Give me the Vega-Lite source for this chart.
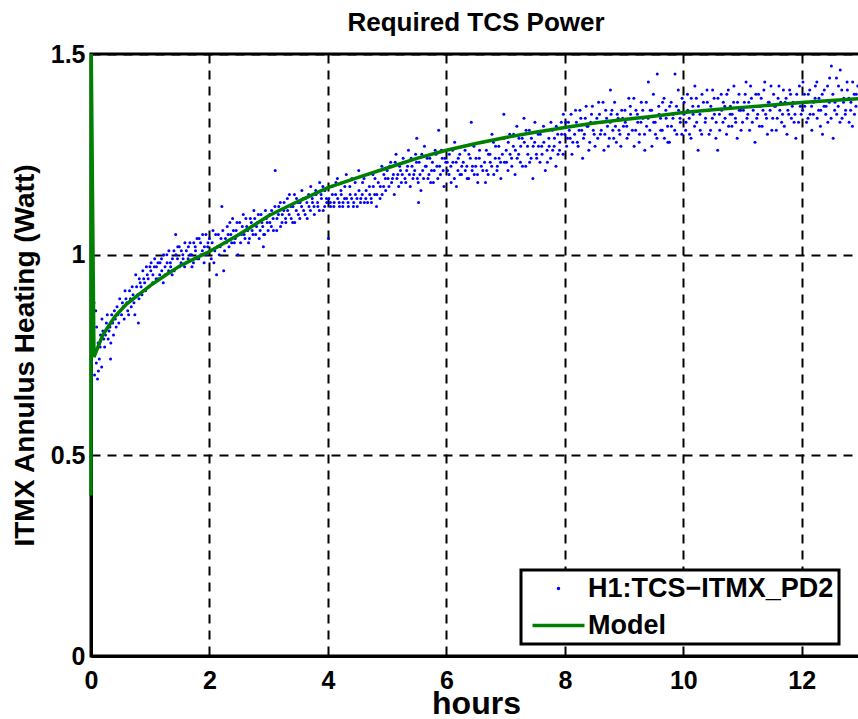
{
  "$schema": "https://vega.github.io/schema/vega-lite/v6.json",
  "width": 770,
  "height": 602,
  "autosize": "none",
  "padding": {"left": 91, "top": 54, "right": 0, "bottom": 63},
  "background": "white",
  "title": {
    "text": "Required TCS Power",
    "font": "Liberation Sans",
    "fontSize": 26,
    "fontWeight": "bold",
    "color": "black",
    "anchor": "middle",
    "offset": 6
  },
  "config": {
    "view": {"stroke": "black", "strokeWidth": 3},
    "legend": {"strokeWidth": 3},
    "axis": {
      "domainColor": "black",
      "domainWidth": 3,
      "ticks": false,
      "labelFont": "Liberation Sans",
      "labelFontSize": 25,
      "labelFontWeight": "bold",
      "labelColor": "black",
      "labelFlush": false,
      "labelOverlap": false,
      "titleFont": "Liberation Sans",
      "titleFontWeight": "bold",
      "titleColor": "black",
      "gridColor": "black",
      "gridWidth": 2,
      "gridDash": [9, 7],
      "gridOpacity": 1
    }
  },
  "datasets": {
    "measured": [
      {"h":0.05,"w":0.88},{"h":0.06,"w":0.70},{"h":0.08,"w":0.86},{"h":0.09,"w":0.73},{"h":0.11,"w":0.69},{"h":0.12,"w":0.78},{"h":0.14,"w":0.74},{"h":0.16,"w":0.80},{"h":0.18,"w":0.72},{"h":0.20,"w":0.81},{"h":0.23,"w":0.77},{"h":0.26,"w":0.83},{"h":0.29,"w":0.79},{"h":0.32,"w":0.82},{"h":0.33,"w":0.74},{"h":0.35,"w":0.85},{"h":0.38,"w":0.80},{"h":0.41,"w":0.84},{"h":0.44,"w":0.87},{"h":0.47,"w":0.83},{"h":0.50,"w":0.86},{"h":0.53,"w":0.88},{"h":0.56,"w":0.84},{"h":0.59,"w":0.89},{"h":0.62,"w":0.86},{"h":0.65,"w":0.91},{"h":0.68,"w":0.87},{"h":0.71,"w":0.90},{"h":0.74,"w":0.85},{"h":0.77,"w":0.92},{"h":0.80,"w":0.83},{"h":0.81,"w":0.89},{"h":0.83,"w":0.93},{"h":0.86,"w":0.90},{"h":0.89,"w":0.94},{"h":0.92,"w":0.91},{"h":0.95,"w":0.95},{"h":0.98,"w":0.92},
      {"h":1.01,"w":0.96},{"h":1.04,"w":0.93},{"h":1.07,"w":0.97},{"h":1.10,"w":0.94},{"h":1.13,"w":0.98},{"h":1.16,"w":0.95},{"h":1.19,"w":0.99},{"h":1.22,"w":0.93},{"h":1.25,"w":0.97},{"h":1.28,"w":1.00},{"h":1.31,"w":0.96},{"h":1.34,"w":0.98},{"h":1.37,"w":0.95},{"h":1.40,"w":1.01},{"h":1.43,"w":1.05},{"h":1.46,"w":0.99},{"h":1.49,"w":1.02},{"h":1.52,"w":0.98},{"h":1.55,"w":1.00},{"h":1.58,"w":0.97},{"h":1.61,"w":1.01},{"h":1.64,"w":0.99},{"h":1.67,"w":1.03},{"h":1.70,"w":1.00},{"h":1.73,"w":0.98},{"h":1.76,"w":1.02},{"h":1.79,"w":1.04},{"h":1.82,"w":0.99},{"h":1.85,"w":1.03},{"h":1.88,"w":1.01},{"h":1.91,"w":0.98},{"h":1.94,"w":1.05},{"h":1.97,"w":1.02},
      {"h":2.00,"w":1.04},{"h":2.03,"w":0.99},{"h":2.06,"w":1.06},{"h":2.09,"w":1.01},{"h":2.12,"w":0.95},{"h":2.15,"w":1.05},{"h":2.18,"w":1.02},{"h":2.21,"w":1.12},{"h":2.24,"w":0.96},{"h":2.27,"w":1.04},{"h":2.30,"w":1.07},{"h":2.33,"w":1.02},{"h":2.36,"w":1.05},{"h":2.39,"w":1.09},{"h":2.42,"w":1.03},{"h":2.45,"w":1.06},{"h":2.48,"w":1.00},{"h":2.51,"w":1.08},{"h":2.54,"w":1.05},{"h":2.57,"w":1.10},{"h":2.60,"w":1.04},{"h":2.63,"w":1.07},{"h":2.66,"w":1.03},{"h":2.69,"w":1.09},{"h":2.72,"w":1.06},{"h":2.75,"w":1.11},{"h":2.78,"w":1.05},{"h":2.81,"w":1.08},{"h":2.84,"w":1.04},{"h":2.87,"w":1.10},{"h":2.90,"w":1.07},{"h":2.91,"w":1.02},{"h":2.93,"w":1.05},{"h":2.96,"w":1.09},{"h":2.99,"w":1.06},
      {"h":3.02,"w":1.08},{"h":3.05,"w":1.11},{"h":3.08,"w":1.06},{"h":3.11,"w":1.21},{"h":3.14,"w":1.09},{"h":3.17,"w":1.12},{"h":3.20,"w":1.07},{"h":3.23,"w":1.10},{"h":3.26,"w":1.13},{"h":3.29,"w":1.08},{"h":3.32,"w":1.11},{"h":3.35,"w":1.15},{"h":3.38,"w":1.09},{"h":3.41,"w":1.12},{"h":3.44,"w":1.08},{"h":3.47,"w":1.14},{"h":3.50,"w":1.10},{"h":3.53,"w":1.13},{"h":3.56,"w":1.16},{"h":3.59,"w":1.11},{"h":3.62,"w":1.14},{"h":3.65,"w":1.09},{"h":3.68,"w":1.12},{"h":3.71,"w":1.17},{"h":3.74,"w":1.13},{"h":3.77,"w":1.10},{"h":3.80,"w":1.15},{"h":3.83,"w":1.12},{"h":3.86,"w":1.18},{"h":3.89,"w":1.14},{"h":3.92,"w":1.11},{"h":3.95,"w":1.16},{"h":3.98,"w":1.13},
      {"h":4.01,"w":1.04},{"h":4.04,"w":1.13},{"h":4.07,"w":1.17},{"h":4.10,"w":1.12},{"h":4.13,"w":1.15},{"h":4.16,"w":1.19},{"h":4.19,"w":1.13},{"h":4.22,"w":1.16},{"h":4.25,"w":1.12},{"h":4.28,"w":1.14},{"h":4.31,"w":1.20},{"h":4.34,"w":1.13},{"h":4.37,"w":1.17},{"h":4.40,"w":1.14},{"h":4.43,"w":1.12},{"h":4.46,"w":1.18},{"h":4.49,"w":1.14},{"h":4.52,"w":1.21},{"h":4.55,"w":1.13},{"h":4.58,"w":1.15},{"h":4.61,"w":1.19},{"h":4.64,"w":1.14},{"h":4.67,"w":1.13},{"h":4.70,"w":1.17},{"h":4.73,"w":1.14},{"h":4.76,"w":1.20},{"h":4.79,"w":1.15},{"h":4.82,"w":1.12},{"h":4.85,"w":1.18},{"h":4.88,"w":1.14},{"h":4.91,"w":1.22},{"h":4.94,"w":1.17},{"h":4.97,"w":1.19},
      {"h":5.00,"w":1.21},{"h":5.03,"w":1.17},{"h":5.06,"w":1.23},{"h":5.09,"w":1.19},{"h":5.12,"w":1.15},{"h":5.15,"w":1.25},{"h":5.18,"w":1.20},{"h":5.21,"w":1.22},{"h":5.24,"w":1.18},{"h":5.27,"w":1.24},{"h":5.30,"w":1.19},{"h":5.33,"w":1.21},{"h":5.36,"w":1.26},{"h":5.39,"w":1.17},{"h":5.42,"w":1.22},{"h":5.45,"w":1.20},{"h":5.48,"w":1.25},{"h":5.50,"w":1.29},{"h":5.51,"w":1.19},{"h":5.53,"w":1.13},{"h":5.54,"w":1.23},{"h":5.57,"w":1.16},{"h":5.60,"w":1.21},{"h":5.63,"w":1.27},{"h":5.66,"w":1.22},{"h":5.69,"w":1.19},{"h":5.72,"w":1.24},{"h":5.75,"w":1.21},{"h":5.78,"w":1.18},{"h":5.81,"w":1.26},{"h":5.84,"w":1.22},{"h":5.87,"w":1.31},{"h":5.90,"w":1.20},{"h":5.93,"w":1.24},{"h":5.96,"w":1.17},{"h":5.99,"w":1.23},
      {"h":6.02,"w":1.21},{"h":6.05,"w":1.25},{"h":6.08,"w":1.18},{"h":6.11,"w":1.23},{"h":6.14,"w":1.28},{"h":6.17,"w":1.17},{"h":6.20,"w":1.24},{"h":6.23,"w":1.20},{"h":6.26,"w":1.22},{"h":6.29,"w":1.27},{"h":6.32,"w":1.21},{"h":6.35,"w":1.19},{"h":6.38,"w":1.25},{"h":6.42,"w":1.33},{"h":6.44,"w":1.22},{"h":6.47,"w":1.20},{"h":6.50,"w":1.24},{"h":6.53,"w":1.18},{"h":6.56,"w":1.26},{"h":6.59,"w":1.22},{"h":6.62,"w":1.28},{"h":6.66,"w":1.18},{"h":6.68,"w":1.21},{"h":6.71,"w":1.25},{"h":6.74,"w":1.23},{"h":6.77,"w":1.30},{"h":6.80,"w":1.20},{"h":6.83,"w":1.27},{"h":6.86,"w":1.22},{"h":6.89,"w":1.24},{"h":6.92,"w":1.19},{"h":6.97,"w":1.35},{"h":6.98,"w":1.23},
      {"h":7.01,"w":1.26},{"h":7.04,"w":1.21},{"h":7.07,"w":1.30},{"h":7.10,"w":1.24},{"h":7.13,"w":1.27},{"h":7.16,"w":1.20},{"h":7.19,"w":1.32},{"h":7.22,"w":1.25},{"h":7.25,"w":1.23},{"h":7.28,"w":1.29},{"h":7.31,"w":1.34},{"h":7.34,"w":1.22},{"h":7.37,"w":1.27},{"h":7.40,"w":1.31},{"h":7.43,"w":1.24},{"h":7.46,"w":1.19},{"h":7.49,"w":1.28},{"h":7.52,"w":1.25},{"h":7.55,"w":1.30},{"h":7.58,"w":1.23},{"h":7.61,"w":1.27},{"h":7.64,"w":1.32},{"h":7.67,"w":1.21},{"h":7.70,"w":1.26},{"h":7.73,"w":1.29},{"h":7.76,"w":1.24},{"h":7.79,"w":1.31},{"h":7.82,"w":1.27},{"h":7.85,"w":1.22},{"h":7.88,"w":1.30},{"h":7.91,"w":1.26},{"h":7.94,"w":1.33},{"h":7.97,"w":1.25},
      {"h":8.00,"w":1.30},{"h":8.03,"w":1.27},{"h":8.06,"w":1.33},{"h":8.09,"w":1.29},{"h":8.12,"w":1.25},{"h":8.15,"w":1.32},{"h":8.18,"w":1.36},{"h":8.21,"w":1.28},{"h":8.24,"w":1.31},{"h":8.27,"w":1.34},{"h":8.30,"w":1.24},{"h":8.33,"w":1.30},{"h":8.36,"w":1.37},{"h":8.39,"w":1.32},{"h":8.42,"w":1.28},{"h":8.45,"w":1.35},{"h":8.48,"w":1.31},{"h":8.51,"w":1.27},{"h":8.54,"w":1.34},{"h":8.57,"w":1.38},{"h":8.60,"w":1.30},{"h":8.63,"w":1.33},{"h":8.66,"w":1.26},{"h":8.69,"w":1.36},{"h":8.72,"w":1.32},{"h":8.75,"w":1.29},{"h":8.77,"w":1.41},{"h":8.78,"w":1.35},{"h":8.81,"w":1.31},{"h":8.84,"w":1.38},{"h":8.87,"w":1.28},{"h":8.90,"w":1.34},{"h":8.93,"w":1.30},{"h":8.96,"w":1.36},{"h":8.99,"w":1.32},
      {"h":9.02,"w":1.33},{"h":9.05,"w":1.29},{"h":9.08,"w":1.39},{"h":9.11,"w":1.35},{"h":9.14,"w":1.31},{"h":9.17,"w":1.27},{"h":9.20,"w":1.36},{"h":9.23,"w":1.33},{"h":9.26,"w":1.30},{"h":9.29,"w":1.38},{"h":9.32,"w":1.34},{"h":9.35,"w":1.26},{"h":9.38,"w":1.32},{"h":9.41,"w":1.43},{"h":9.44,"w":1.36},{"h":9.47,"w":1.27},{"h":9.50,"w":1.33},{"h":9.53,"w":1.30},{"h":9.56,"w":1.45},{"h":9.59,"w":1.35},{"h":9.62,"w":1.31},{"h":9.65,"w":1.38},{"h":9.68,"w":1.29},{"h":9.71,"w":1.34},{"h":9.74,"w":1.28},{"h":9.77,"w":1.37},{"h":9.80,"w":1.32},{"h":9.83,"w":1.35},{"h":9.86,"w":1.45},{"h":9.89,"w":1.30},{"h":9.92,"w":1.36},{"h":9.95,"w":1.33},{"h":9.98,"w":1.39},
      {"h":10.01,"w":1.35},{"h":10.04,"w":1.31},{"h":10.07,"w":1.40},{"h":10.10,"w":1.34},{"h":10.13,"w":1.29},{"h":10.16,"w":1.37},{"h":10.19,"w":1.32},{"h":10.22,"w":1.39},{"h":10.25,"w":1.26},{"h":10.28,"w":1.35},{"h":10.31,"w":1.30},{"h":10.34,"w":1.38},{"h":10.37,"w":1.33},{"h":10.40,"w":1.41},{"h":10.43,"w":1.36},{"h":10.46,"w":1.31},{"h":10.49,"w":1.34},{"h":10.52,"w":1.39},{"h":10.55,"w":1.29},{"h":10.58,"w":1.26},{"h":10.61,"w":1.35},{"h":10.64,"w":1.40},{"h":10.67,"w":1.33},{"h":10.70,"w":1.37},{"h":10.73,"w":1.30},{"h":10.76,"w":1.41},{"h":10.79,"w":1.35},{"h":10.82,"w":1.32},{"h":10.85,"w":1.38},{"h":10.88,"w":1.34},{"h":10.91,"w":1.29},{"h":10.94,"w":1.40},{"h":10.97,"w":1.36},
      {"h":11.00,"w":1.33},{"h":11.03,"w":1.38},{"h":11.06,"w":1.43},{"h":11.09,"w":1.35},{"h":11.12,"w":1.31},{"h":11.15,"w":1.39},{"h":11.18,"w":1.36},{"h":11.21,"w":1.28},{"h":11.24,"w":1.34},{"h":11.27,"w":1.40},{"h":11.30,"w":1.37},{"h":11.33,"w":1.32},{"h":11.36,"w":1.41},{"h":11.39,"w":1.35},{"h":11.42,"w":1.30},{"h":11.45,"w":1.38},{"h":11.48,"w":1.42},{"h":11.51,"w":1.34},{"h":11.54,"w":1.37},{"h":11.57,"w":1.31},{"h":11.60,"w":1.39},{"h":11.63,"w":1.36},{"h":11.66,"w":1.33},{"h":11.69,"w":1.41},{"h":11.72,"w":1.38},{"h":11.75,"w":1.30},{"h":11.78,"w":1.35},{"h":11.81,"w":1.40},{"h":11.84,"w":1.37},{"h":11.87,"w":1.33},{"h":11.90,"w":1.29},{"h":11.93,"w":1.38},{"h":11.96,"w":1.42},{"h":11.99,"w":1.35},
      {"h":12.02,"w":1.43},{"h":12.05,"w":1.37},{"h":12.08,"w":1.33},{"h":12.11,"w":1.40},{"h":12.14,"w":1.35},{"h":12.17,"w":1.31},{"h":12.20,"w":1.38},{"h":12.23,"w":1.42},{"h":12.26,"w":1.34},{"h":12.29,"w":1.39},{"h":12.32,"w":1.36},{"h":12.35,"w":1.30},{"h":12.38,"w":1.41},{"h":12.41,"w":1.37},{"h":12.44,"w":1.33},{"h":12.47,"w":1.44},{"h":12.50,"w":1.47},{"h":12.53,"w":1.29},{"h":12.56,"w":1.38},{"h":12.59,"w":1.35},{"h":12.62,"w":1.42},{"h":12.65,"w":1.46},{"h":12.68,"w":1.34},{"h":12.71,"w":1.39},{"h":12.74,"w":1.36},{"h":12.77,"w":1.41},{"h":12.80,"w":1.33},{"h":12.83,"w":1.38},{"h":12.86,"w":1.43},{"h":12.89,"w":1.35},{"h":12.92,"w":1.40},
      {"h":0.065,"w":0.76},{"h":0.095,"w":0.82},{"h":0.125,"w":0.71},{"h":0.155,"w":0.77},{"h":0.185,"w":0.84},{"h":0.215,"w":0.79},{"h":0.245,"w":0.80},{"h":0.275,"w":0.85},{"h":0.305,"w":0.81},{"h":0.335,"w":0.78},{"h":0.365,"w":0.83},{"h":0.395,"w":0.86},{"h":0.425,"w":0.82},{"h":0.455,"w":0.85},{"h":0.485,"w":0.89},{"h":0.515,"w":0.85},{"h":0.545,"w":0.87},{"h":0.575,"w":0.91},{"h":0.605,"w":0.88},{"h":0.635,"w":0.85},{"h":0.665,"w":0.89},{"h":0.695,"w":0.92},{"h":0.725,"w":0.88},{"h":0.755,"w":0.95},{"h":0.785,"w":0.90},{"h":0.815,"w":0.94},{"h":0.845,"w":0.92},{"h":0.875,"w":0.96},{"h":0.905,"w":0.93},{"h":0.935,"w":0.97},{"h":0.965,"w":0.94},{"h":0.995,"w":0.97},
      {"h":1.015,"w":0.98},{"h":1.045,"w":0.95},{"h":1.075,"w":0.99},{"h":1.105,"w":0.97},{"h":1.135,"w":0.94},{"h":1.165,"w":0.98},{"h":1.195,"w":0.96},{"h":1.225,"w":1.00},{"h":1.255,"w":0.95},{"h":1.285,"w":0.98},{"h":1.315,"w":1.01},{"h":1.345,"w":0.97},{"h":1.375,"w":0.99},{"h":1.405,"w":0.96},{"h":1.435,"w":1.00},{"h":1.465,"w":1.02},{"h":1.495,"w":0.97},{"h":1.525,"w":1.01},{"h":1.555,"w":0.99},{"h":1.585,"w":1.03},{"h":1.615,"w":0.98},{"h":1.645,"w":1.02},{"h":1.675,"w":1.00},{"h":1.705,"w":0.97},{"h":1.735,"w":1.03},{"h":1.765,"w":1.01},{"h":1.795,"w":0.99},{"h":1.825,"w":1.04},{"h":1.855,"w":1.00},{"h":1.885,"w":1.05},{"h":1.915,"w":1.02},{"h":1.945,"w":1.00},{"h":1.975,"w":1.03},
      {"h":2.015,"w":1.01},{"h":2.045,"w":1.03},{"h":2.075,"w":0.98},{"h":2.105,"w":1.05},{"h":2.135,"w":1.02},{"h":2.165,"w":1.00},{"h":2.195,"w":1.04},{"h":2.225,"w":1.06},{"h":2.255,"w":1.01},{"h":2.285,"w":1.03},{"h":2.315,"w":1.05},{"h":2.345,"w":1.08},{"h":2.375,"w":1.03},{"h":2.405,"w":1.06},{"h":2.435,"w":1.04},{"h":2.465,"w":1.08},{"h":2.495,"w":1.05},{"h":2.525,"w":1.03},{"h":2.555,"w":1.07},{"h":2.585,"w":1.05},{"h":2.615,"w":1.09},{"h":2.645,"w":1.06},{"h":2.675,"w":1.04},{"h":2.705,"w":1.08},{"h":2.735,"w":1.05},{"h":2.765,"w":1.09},{"h":2.795,"w":1.07},{"h":2.825,"w":1.10},{"h":2.855,"w":1.06},{"h":2.885,"w":1.08},{"h":2.915,"w":1.05},{"h":2.945,"w":1.11},{"h":2.975,"w":1.08},
      {"h":3.015,"w":1.10},{"h":3.045,"w":1.07},{"h":3.075,"w":1.09},{"h":3.105,"w":1.12},{"h":3.135,"w":1.06},{"h":3.165,"w":1.10},{"h":3.195,"w":1.13},{"h":3.225,"w":1.08},{"h":3.255,"w":1.11},{"h":3.285,"w":1.09},{"h":3.315,"w":1.14},{"h":3.345,"w":1.10},{"h":3.375,"w":1.12},{"h":3.405,"w":1.08},{"h":3.435,"w":1.15},{"h":3.465,"w":1.11},{"h":3.495,"w":1.13},{"h":3.525,"w":1.09},{"h":3.555,"w":1.12},{"h":3.585,"w":1.14},{"h":3.615,"w":1.10},{"h":3.645,"w":1.13},{"h":3.675,"w":1.15},{"h":3.705,"w":1.11},{"h":3.735,"w":1.14},{"h":3.765,"w":1.12},{"h":3.795,"w":1.16},{"h":3.825,"w":1.13},{"h":3.855,"w":1.11},{"h":3.885,"w":1.15},{"h":3.915,"w":1.17},{"h":3.945,"w":1.12},{"h":3.975,"w":1.14},
      {"h":4.015,"w":1.14},{"h":4.045,"w":1.12},{"h":4.075,"w":1.15},{"h":4.105,"w":1.13},{"h":4.135,"w":1.18},{"h":4.165,"w":1.14},{"h":4.195,"w":1.12},{"h":4.225,"w":1.15},{"h":4.255,"w":1.13},{"h":4.285,"w":1.17},{"h":4.315,"w":1.14},{"h":4.345,"w":1.12},{"h":4.375,"w":1.15},{"h":4.405,"w":1.19},{"h":4.435,"w":1.13},{"h":4.465,"w":1.15},{"h":4.495,"w":1.12},{"h":4.525,"w":1.16},{"h":4.555,"w":1.14},{"h":4.585,"w":1.18},{"h":4.615,"w":1.13},{"h":4.645,"w":1.16},{"h":4.675,"w":1.20},{"h":4.705,"w":1.15},{"h":4.735,"w":1.13},{"h":4.765,"w":1.17},{"h":4.795,"w":1.19},{"h":4.825,"w":1.15},{"h":4.855,"w":1.21},{"h":4.885,"w":1.17},{"h":4.915,"w":1.15},{"h":4.945,"w":1.20},{"h":4.975,"w":1.16},
      {"h":5.015,"w":1.19},{"h":5.045,"w":1.22},{"h":5.075,"w":1.18},{"h":5.105,"w":1.20},{"h":5.135,"w":1.23},{"h":5.165,"w":1.19},{"h":5.195,"w":1.17},{"h":5.225,"w":1.21},{"h":5.255,"w":1.20},{"h":5.285,"w":1.23},{"h":5.315,"w":1.18},{"h":5.345,"w":1.22},{"h":5.375,"w":1.20},{"h":5.405,"w":1.24},{"h":5.435,"w":1.19},{"h":5.465,"w":1.21},{"h":5.495,"w":1.23},{"h":5.525,"w":1.18},{"h":5.555,"w":1.20},{"h":5.585,"w":1.25},{"h":5.615,"w":1.19},{"h":5.645,"w":1.22},{"h":5.675,"w":1.24},{"h":5.705,"w":1.20},{"h":5.735,"w":1.18},{"h":5.765,"w":1.23},{"h":5.795,"w":1.21},{"h":5.825,"w":1.25},{"h":5.855,"w":1.19},{"h":5.885,"w":1.22},{"h":5.915,"w":1.26},{"h":5.945,"w":1.21},{"h":5.975,"w":1.24},
      {"h":6.015,"w":1.23},{"h":6.045,"w":1.20},{"h":6.075,"w":1.22},{"h":6.105,"w":1.26},{"h":6.135,"w":1.19},{"h":6.165,"w":1.23},{"h":6.195,"w":1.21},{"h":6.225,"w":1.25},{"h":6.255,"w":1.20},{"h":6.285,"w":1.23},{"h":6.315,"w":1.26},{"h":6.345,"w":1.22},{"h":6.375,"w":1.19},{"h":6.405,"w":1.24},{"h":6.435,"w":1.21},{"h":6.465,"w":1.27},{"h":6.495,"w":1.22},{"h":6.525,"w":1.20},{"h":6.555,"w":1.24},{"h":6.585,"w":1.28},{"h":6.615,"w":1.21},{"h":6.645,"w":1.23},{"h":6.675,"w":1.26},{"h":6.705,"w":1.20},{"h":6.735,"w":1.25},{"h":6.765,"w":1.22},{"h":6.795,"w":1.28},{"h":6.825,"w":1.24},{"h":6.855,"w":1.21},{"h":6.885,"w":1.27},{"h":6.915,"w":1.23},{"h":6.945,"w":1.25},{"h":6.975,"w":1.29},
      {"h":7.015,"w":1.23},{"h":7.045,"w":1.28},{"h":7.075,"w":1.25},{"h":7.105,"w":1.22},{"h":7.135,"w":1.30},{"h":7.165,"w":1.26},{"h":7.195,"w":1.24},{"h":7.225,"w":1.29},{"h":7.255,"w":1.27},{"h":7.285,"w":1.22},{"h":7.315,"w":1.28},{"h":7.345,"w":1.31},{"h":7.375,"w":1.25},{"h":7.405,"w":1.23},{"h":7.435,"w":1.29},{"h":7.465,"w":1.27},{"h":7.495,"w":1.33},{"h":7.525,"w":1.24},{"h":7.555,"w":1.27},{"h":7.585,"w":1.30},{"h":7.615,"w":1.25},{"h":7.645,"w":1.28},{"h":7.675,"w":1.31},{"h":7.705,"w":1.23},{"h":7.735,"w":1.27},{"h":7.765,"w":1.33},{"h":7.795,"w":1.26},{"h":7.825,"w":1.29},{"h":7.855,"w":1.32},{"h":7.885,"w":1.25},{"h":7.915,"w":1.28},{"h":7.945,"w":1.30},{"h":7.975,"w":1.35},
      {"h":8.015,"w":1.33},{"h":8.045,"w":1.29},{"h":8.075,"w":1.31},{"h":8.105,"w":1.35},{"h":8.135,"w":1.28},{"h":8.165,"w":1.30},{"h":8.195,"w":1.33},{"h":8.225,"w":1.27},{"h":8.255,"w":1.36},{"h":8.285,"w":1.31},{"h":8.315,"w":1.29},{"h":8.345,"w":1.34},{"h":8.375,"w":1.32},{"h":8.405,"w":1.26},{"h":8.435,"w":1.33},{"h":8.465,"w":1.37},{"h":8.495,"w":1.30},{"h":8.525,"w":1.33},{"h":8.555,"w":1.29},{"h":8.585,"w":1.35},{"h":8.615,"w":1.31},{"h":8.645,"w":1.38},{"h":8.675,"w":1.30},{"h":8.705,"w":1.34},{"h":8.735,"w":1.27},{"h":8.765,"w":1.33},{"h":8.795,"w":1.36},{"h":8.825,"w":1.29},{"h":8.855,"w":1.32},{"h":8.885,"w":1.35},{"h":8.915,"w":1.31},{"h":8.945,"w":1.27},{"h":8.975,"w":1.34},
      {"h":9.015,"w":1.36},{"h":9.045,"w":1.32},{"h":9.075,"w":1.30},{"h":9.105,"w":1.37},{"h":9.135,"w":1.34},{"h":9.165,"w":1.39},{"h":9.195,"w":1.31},{"h":9.225,"w":1.35},{"h":9.255,"w":1.28},{"h":9.285,"w":1.33},{"h":9.315,"w":1.36},{"h":9.345,"w":1.30},{"h":9.375,"w":1.38},{"h":9.405,"w":1.34},{"h":9.435,"w":1.31},{"h":9.465,"w":1.36},{"h":9.495,"w":1.40},{"h":9.525,"w":1.33},{"h":9.555,"w":1.29},{"h":9.585,"w":1.37},{"h":9.615,"w":1.34},{"h":9.645,"w":1.31},{"h":9.675,"w":1.39},{"h":9.705,"w":1.36},{"h":9.735,"w":1.32},{"h":9.765,"w":1.28},{"h":9.795,"w":1.38},{"h":9.825,"w":1.34},{"h":9.855,"w":1.31},{"h":9.885,"w":1.37},{"h":9.915,"w":1.41},{"h":9.945,"w":1.34},{"h":9.975,"w":1.30},
      {"h":10.015,"w":1.38},{"h":10.045,"w":1.33},{"h":10.075,"w":1.36},{"h":10.105,"w":1.30},{"h":10.135,"w":1.39},{"h":10.165,"w":1.35},{"h":10.195,"w":1.42},{"h":10.225,"w":1.33},{"h":10.255,"w":1.37},{"h":10.285,"w":1.31},{"h":10.315,"w":1.40},{"h":10.345,"w":1.36},{"h":10.375,"w":1.34},{"h":10.405,"w":1.38},{"h":10.435,"w":1.30},{"h":10.465,"w":1.37},{"h":10.495,"w":1.41},{"h":10.525,"w":1.35},{"h":10.555,"w":1.33},{"h":10.585,"w":1.39},{"h":10.615,"w":1.31},{"h":10.645,"w":1.36},{"h":10.675,"w":1.38},{"h":10.705,"w":1.34},{"h":10.735,"w":1.40},{"h":10.765,"w":1.32},{"h":10.795,"w":1.37},{"h":10.825,"w":1.35},{"h":10.855,"w":1.42},{"h":10.885,"w":1.33},{"h":10.915,"w":1.38},{"h":10.945,"w":1.36},{"h":10.975,"w":1.31},
      {"h":11.015,"w":1.36},{"h":11.045,"w":1.40},{"h":11.075,"w":1.34},{"h":11.105,"w":1.38},{"h":11.135,"w":1.42},{"h":11.165,"w":1.33},{"h":11.195,"w":1.37},{"h":11.225,"w":1.40},{"h":11.255,"w":1.35},{"h":11.285,"w":1.32},{"h":11.315,"w":1.39},{"h":11.345,"w":1.36},{"h":11.375,"w":1.43},{"h":11.405,"w":1.34},{"h":11.435,"w":1.38},{"h":11.465,"w":1.36},{"h":11.495,"w":1.31},{"h":11.525,"w":1.40},{"h":11.555,"w":1.37},{"h":11.585,"w":1.34},{"h":11.615,"w":1.42},{"h":11.645,"w":1.38},{"h":11.675,"w":1.35},{"h":11.705,"w":1.32},{"h":11.735,"w":1.39},{"h":11.765,"w":1.36},{"h":11.795,"w":1.41},{"h":11.825,"w":1.34},{"h":11.855,"w":1.38},{"h":11.885,"w":1.35},{"h":11.915,"w":1.40},{"h":11.945,"w":1.33},{"h":11.975,"w":1.37},
      {"h":12.015,"w":1.36},{"h":12.045,"w":1.40},{"h":12.075,"w":1.38},{"h":12.105,"w":1.34},{"h":12.135,"w":1.41},{"h":12.165,"w":1.37},{"h":12.195,"w":1.35},{"h":12.225,"w":1.39},{"h":12.255,"w":1.43},{"h":12.285,"w":1.36},{"h":12.315,"w":1.32},{"h":12.345,"w":1.40},{"h":12.375,"w":1.37},{"h":12.405,"w":1.35},{"h":12.435,"w":1.42},{"h":12.465,"w":1.38},{"h":12.495,"w":1.34},{"h":12.525,"w":1.40},{"h":12.555,"w":1.36},{"h":12.585,"w":1.44},{"h":12.615,"w":1.37},{"h":12.645,"w":1.33},{"h":12.675,"w":1.41},{"h":12.705,"w":1.38},{"h":12.735,"w":1.35},{"h":12.765,"w":1.43},{"h":12.795,"w":1.39},{"h":12.825,"w":1.36},{"h":12.855,"w":1.32},{"h":12.885,"w":1.40},{"h":12.915,"w":1.37},{"h":12.945,"w":1.42}
    ],
    "model": [
      {"h":0,"w":0.40},{"h":0.004,"w":1.7},{"h":0.05,"w":0.745},{"h":0.2,"w":0.80},{"h":0.4,"w":0.845},{"h":0.6,"w":0.877},{"h":0.8,"w":0.90},{"h":1.0,"w":0.923},{"h":1.25,"w":0.948},{"h":1.5,"w":0.972},{"h":1.75,"w":0.99},{"h":2.0,"w":1.008},{"h":2.5,"w":1.05},{"h":3.0,"w":1.097},{"h":3.5,"w":1.133},{"h":4.0,"w":1.167},{"h":4.5,"w":1.192},{"h":5.0,"w":1.216},{"h":5.5,"w":1.24},{"h":6.0,"w":1.26},{"h":6.5,"w":1.277},{"h":7.0,"w":1.292},{"h":7.5,"w":1.305},{"h":8.0,"w":1.317},{"h":8.5,"w":1.328},{"h":9.0,"w":1.337},{"h":9.5,"w":1.345},{"h":10.0,"w":1.354},{"h":10.5,"w":1.361},{"h":11.0,"w":1.367},{"h":11.5,"w":1.373},{"h":12.0,"w":1.379},{"h":12.5,"w":1.384},{"h":13.0,"w":1.389}
    ]
  },
  "encoding": {
    "x": {
      "field": "h",
      "type": "quantitative",
      "scale": {"domain": [0, 13], "nice": false, "zero": false},
      "axis": {
        "title": "hours",
        "titleFontSize": 32,
        "titleBaseline": "alphabetic",
        "titleX": 385,
        "titleY": 57,
        "values": [0, 2, 4, 6, 8, 10, 12],
        "format": "~g",
        "labelPadding": 12
      }
    },
    "y": {
      "field": "w",
      "type": "quantitative",
      "scale": {"domain": [0, 1.5], "nice": false, "clamp": true},
      "axis": {
        "title": "ITMX Annulus Heating (Watt)",
        "titleFontSize": 28,
        "titleBaseline": "alphabetic",
        "titleX": -58,
        "titleY": 301,
        "values": [0, 0.5, 1, 1.5],
        "format": "~g",
        "labelPadding": 6
      }
    }
  },
  "layer": [
    {
      "data": {"name": "measured"},
      "mark": {"type": "point", "filled": true, "size": 9, "opacity": 1},
      "encoding": {
        "color": {
          "datum": "H1:TCS−ITMX_PD2",
          "scale": {"domain": ["H1:TCS−ITMX_PD2", "Model"], "range": ["#0000ff", "#008000"]},
          "legend": {
            "orient": "none",
            "legendX": 430,
            "legendY": 516,
            "title": null,
            "labelFont": "Liberation Sans",
            "labelFontSize": 27,
            "labelFontWeight": "bold",
            "labelColor": "black",
            "labelLimit": 400,
            "padding": 5,
            "rowPadding": 9,
            "symbolSize": 12,
            "symbolOffset": 19,
            "labelOffset": 16,
            "symbolStrokeWidth": 0,
            "strokeColor": "black",
            "fillColor": "white"
          }
        },
        "shape": {
          "datum": "H1:TCS−ITMX_PD2",
          "scale": {"domain": ["H1:TCS−ITMX_PD2", "Model"], "range": ["circle", "M-15,-1H15V1H-15Z"]},
          "legend": {
            "orient": "none",
            "legendX": 430,
            "legendY": 516,
            "title": null,
            "labelFont": "Liberation Sans",
            "labelFontSize": 27,
            "labelFontWeight": "bold",
            "labelColor": "black",
            "labelLimit": 400,
            "padding": 5,
            "rowPadding": 9,
            "symbolSize": 12,
            "symbolOffset": 19,
            "labelOffset": 16,
            "symbolStrokeWidth": 0,
            "strokeColor": "black",
            "fillColor": "white"
          }
        }
      }
    },
    {
      "data": {"name": "model"},
      "mark": {"type": "line", "strokeWidth": 3.5, "color": "#008000"},
      "encoding": {}
    }
  ]
}
